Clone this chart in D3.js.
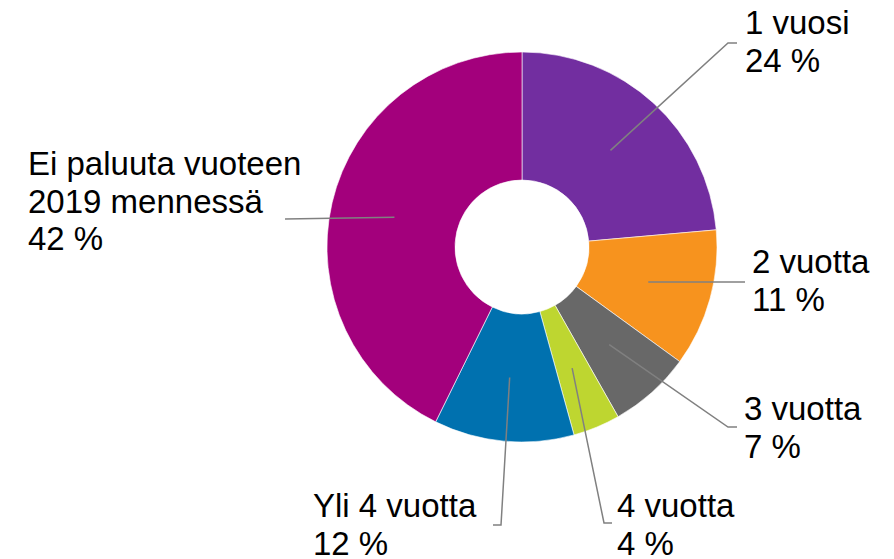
<!DOCTYPE html>
<html>
<head>
<meta charset="utf-8">
<title>Paluu</title>
<script src="https://d3js.org/d3.v7.min.js"></script>
<style>
	body { margin: 0; background: #fff; }
	#chart text {
		font-family: "Liberation Sans", Arial, Helvetica, sans-serif;
		font-size: 33px;
		fill: #000;
	}
	#chart .leader { fill: none; stroke: #808080; stroke-width: 1.5; }
</style>
</head>
<body>
<div id="chart"></div>
<script>
// slices, clockwise from 12 o'clock
var categories = ["1 vuosi", "2 vuotta", "3 vuotta", "4 vuotta", "Yli 4 vuotta", "Ei paluuta vuoteen|2019 mennessä"];
var values     = [23.6, 11.4, 6.8, 3.9, 11.6, 42.7];
var pctLabels  = ["24 %", "11 %", "7 %", "4 %", "12 %", "42 %"];
var colors     = ["#722ea0", "#f7931e", "#686868", "#bed630", "#0071af", "#a3007c"];

var width = 894, height = 559;
var cx = 522, cy = 247, rOuter = 195, rInner = 67;
var lineH = 37.5;

// label text origin (x, first baseline) and elbow of leader line
var labelPos = [
	{x: 745, y: 34,  elbow: [[728, 43], [737, 43]]},
	{x: 752, y: 273, elbow: [[745, 282]]},
	{x: 744, y: 420, elbow: [[728, 427], [737, 427]]},
	{x: 617, y: 517, elbow: [[604, 523], [612, 523]]},
	{x: 313, y: 517, elbow: [[501, 525], [493, 525]]},
	{x: 28,  y: 175, elbow: [[285, 219]]}
];

var svg = d3.select('#chart').append('svg')
	.attr('width', width)
	.attr('height', height);

var pie = d3.pie().sort(null).value(function(d) { return d; });
var arcs = pie(values);

var arc = d3.arc().innerRadius(rInner).outerRadius(rOuter);

var g = svg.append('g').attr('transform', 'translate(' + cx + ',' + cy + ')');

g.selectAll('path.slice')
	.data(arcs)
	.enter().append('path')
	.attr('class', 'slice')
	.attr('fill', function(d, i) { return colors[i]; })
	.attr('stroke', '#fff')
	.attr('stroke-width', 0.6)
	.attr('d', arc);

// leader lines from centroid of each slice
var line = d3.line();
svg.selectAll('path.leader')
	.data(arcs)
	.enter().append('path')
	.attr('class', 'leader')
	.attr('d', function(d, i) {
		var c = arc.centroid(d);
		var pts = [[cx + c[0], cy + c[1]]].concat(labelPos[i].elbow);
		return line(pts);
	});

var labels = svg.selectAll('text.lbl')
	.data(categories)
	.enter().append('text')
	.attr('class', 'lbl')
	.attr('x', function(d, i) { return labelPos[i].x; })
	.attr('y', function(d, i) { return labelPos[i].y; });

labels.each(function(d, i) {
	var rows = d.split('|').concat([pctLabels[i]]);
	var t = d3.select(this);
	rows.forEach(function(r, k) {
		t.append('tspan')
			.attr('x', labelPos[i].x)
			.attr('y', labelPos[i].y + k * lineH)
			.text(r);
	});
});
</script>
</body>
</html>
